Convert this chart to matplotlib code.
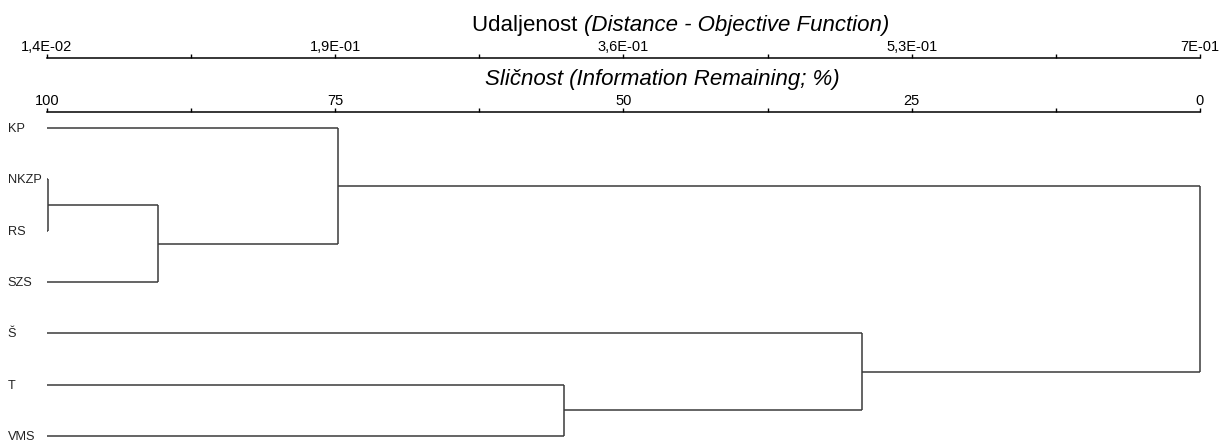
import matplotlib
matplotlib.use("Agg")
import matplotlib.pyplot as plt

plt.rcParams['font.family'] = ['Liberation Sans', 'DejaVu Sans']

# leaves, top to bottom
leaf_labels = ["KP", "NKZP", "RS", "SZS", "Š", "T", "VMS"]

# merges: cluster "cK" is the result of merge K, height in % information remaining
merge_a = ["NKZP", "c0", "KP", "T", "Š", "c2"]
merge_b = ["RS", "SZS", "c1", "VMS", "c3", "c4"]
merge_sim = [99.9, 90.4, 74.8, 55.2, 29.3, 0.0]

# axis ticks
sim_ticks = [100, 75, 50, 25, 0]
sim_minor = [87.5, 62.5, 37.5, 12.5]
dist_min, dist_max = 0.014, 0.7
dist_labels = ["1,4E-02", "1,9E-01", "3,6E-01", "5,3E-01", "7E-01"]

line_col = "#3a3a3a"

fig = plt.figure(figsize=(12.23, 4.44), dpi=100)
W, H = 1223, 444
ax = fig.add_axes([47 / W, 0, 1153 / W, 332 / H])

# draw the dendrogram
pos = {}
for i, lab in enumerate(leaf_labels):
    pos[lab] = (i, 100.0)
for k in range(len(merge_sim)):
    ya, xa = pos[merge_a[k]]
    yb, xb = pos[merge_b[k]]
    h = merge_sim[k]
    ax.plot([xa, h], [ya, ya], color=line_col, lw=1.1, clip_on=False, solid_capstyle='butt')
    ax.plot([xb, h], [yb, yb], color=line_col, lw=1.1, clip_on=False, solid_capstyle='butt')
    ax.plot([h, h], [ya, yb], color=line_col, lw=1.1, clip_on=False, solid_capstyle='butt')
    pos["c%d" % k] = ((ya + yb) / 2, h)

ax.set_xlim(100, 0)
ax.set_ylim(6.156, -0.312)

for i, lab in enumerate(leaf_labels):
    ax.text(-0.034, i + 0.02, lab, transform=ax.get_yaxis_transform(), ha='left', va='center',
            fontsize=9.2, color='#222222')

for s in ["left", "right", "bottom"]:
    ax.spines[s].set_visible(False)
ax.spines["top"].set_linewidth(1.1)
ax.set_yticks([])
ax.xaxis.tick_top()
ax.set_xticks(sim_ticks)
ax.set_xticks(sim_minor, minor=True)
ax.set_xticklabels([str(t) for t in sim_ticks])
ax.tick_params(axis='x', which='both', direction='out', length=3, width=1, pad=0, labelsize=10.5)

# distance axis above
def sim2dist(s):
    return dist_min + (100 - s) / 100 * (dist_max - dist_min)

def dist2sim(d):
    return 100 - (d - dist_min) / (dist_max - dist_min) * 100

sec = ax.secondary_xaxis(1 + 54 / 332, functions=(sim2dist, dist2sim))
sec.set_xticks([sim2dist(t) for t in sim_ticks])
sec.set_xticks([sim2dist(t) for t in sim_minor], minor=True)
sec.set_xticklabels(dist_labels)
sec.spines["top"].set_linewidth(1.1)
sec.tick_params(axis='x', which='both', direction='out', length=3, width=1, pad=0, labelsize=10.5)

# axis titles
t1 = fig.text(472 / W, 1 - 25 / H, "Udaljenost ", ha='left', va='center', fontsize=16)
ax.annotate("(Distance - Objective Function)", xy=(1, 0), xycoords=t1, ha='left', va='bottom',
            fontsize=16, style='italic')
fig.text(662 / W, 1 - 80 / H, "Sličnost (Information Remaining; %)", ha='center', va='center',
         fontsize=16, style='italic')

fig.savefig("out.png", dpi=100)
